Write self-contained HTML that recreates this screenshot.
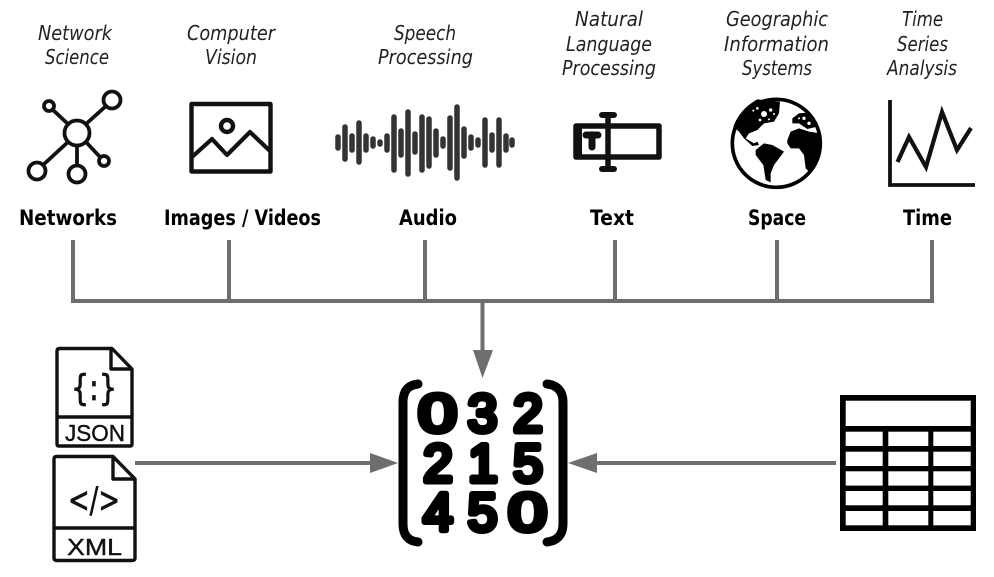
<!DOCTYPE html>
<html><head><meta charset="utf-8"><style>
html,body{margin:0;padding:0;background:#fff}
svg{display:block}
.i{font:italic 20px "DejaVu Sans",sans-serif;fill:#222}
.b{font:bold 21px "DejaVu Sans",sans-serif;fill:#000}
.f{font:23px "Liberation Sans",sans-serif;fill:#111;stroke:#111;stroke-width:.4}
.d{font:53px "Liberation Sans",sans-serif;fill:#000;stroke:#000;stroke-width:6;stroke-linejoin:round;stroke-linecap:round}
</style></head><body>
<svg width="994" height="577" viewBox="0 0 994 577" xmlns="http://www.w3.org/2000/svg">
<rect width="994" height="577" fill="#fff"/>
<text class="i" x="38" y="40" textLength="74" lengthAdjust="spacingAndGlyphs">Network</text>
<text class="i" x="45" y="64" textLength="64" lengthAdjust="spacingAndGlyphs">Science</text>
<text class="i" x="187" y="40" textLength="88" lengthAdjust="spacingAndGlyphs">Computer</text>
<text class="i" x="205" y="64" textLength="52" lengthAdjust="spacingAndGlyphs">Vision</text>
<text class="i" x="394" y="40" textLength="62" lengthAdjust="spacingAndGlyphs">Speech</text>
<text class="i" x="378" y="64" textLength="95" lengthAdjust="spacingAndGlyphs">Processing</text>
<text class="i" x="575" y="26" textLength="68" lengthAdjust="spacingAndGlyphs">Natural</text>
<text class="i" x="566" y="51" textLength="86" lengthAdjust="spacingAndGlyphs">Language</text>
<text class="i" x="562" y="75" textLength="94" lengthAdjust="spacingAndGlyphs">Processing</text>
<text class="i" x="726" y="26" textLength="102" lengthAdjust="spacingAndGlyphs">Geographic</text>
<text class="i" x="724" y="51" textLength="105" lengthAdjust="spacingAndGlyphs">Information</text>
<text class="i" x="742" y="75" textLength="70" lengthAdjust="spacingAndGlyphs">Systems</text>
<text class="i" x="902" y="26" textLength="41" lengthAdjust="spacingAndGlyphs">Time</text>
<text class="i" x="897" y="51" textLength="51" lengthAdjust="spacingAndGlyphs">Series</text>
<text class="i" x="887" y="75" textLength="70" lengthAdjust="spacingAndGlyphs">Analysis</text>
<text class="b" x="19" y="225" textLength="98" lengthAdjust="spacingAndGlyphs">Networks</text>
<text class="b" x="164" y="225" textLength="157" lengthAdjust="spacingAndGlyphs">Images / Videos</text>
<text class="b" x="399" y="225" textLength="58" lengthAdjust="spacingAndGlyphs">Audio</text>
<text class="b" x="590" y="225" textLength="44" lengthAdjust="spacingAndGlyphs">Text</text>
<text class="b" x="748" y="225" textLength="58" lengthAdjust="spacingAndGlyphs">Space</text>
<text class="b" x="903" y="225" textLength="49" lengthAdjust="spacingAndGlyphs">Time</text>

<!-- network -->
<g fill="none" stroke="#111" stroke-width="3.800">
<path d="M53 110 68 124M86 124 106 106M68 142 43 165M77 146V165M86 142 100 157"/>
<circle cx="77" cy="133" r="12.500"/><circle cx="49" cy="106" r="5"/><circle cx="112" cy="100" r="8.500"/><circle cx="37" cy="171" r="8.500"/><circle cx="77" cy="174" r="8.500"/><circle cx="104" cy="161" r="5"/>
</g>
<!-- image -->
<g fill="none" stroke="#111" stroke-width="4.400" stroke-linejoin="round">
<rect x="191.500" y="104" width="79" height="67.500"/>
<path d="M192 157 212 139 227 155 250 132 270 151" stroke-width="4.200"/>
<circle cx="227" cy="126" r="6"/>
</g>
<!-- audio -->
<g fill="none" stroke="#333" stroke-width="5.500" stroke-linecap="round">
<path d="M338 137V148M345 127V159M352 136V150M359 123V162M366 136V150M373 139V146M380 142V144M387 136V150M394 117V170M401 131V155M408 112V174M415 134V152M422 117V170M429 119V166M436 131V155M443 139V146M450 118V168M457 107V178M464 129V156M471 137V148M478 140V145M485 120V165M492 135V150M499 120V165M506 136V150M512 140V145"/>
</g>
<!-- text icon -->
<g fill="none" stroke="#111">
<rect x="576" y="126" width="83" height="31" stroke-width="5.500" stroke-linejoin="round"/>
<path d="M608 115V168M577 126V157" stroke-width="5.500"/>
<path d="M579 126V157" stroke-width="6"/>
<path d="M602 115H614M602 169H614" stroke-width="6" stroke-linecap="round"/>
<path d="M586 135H598M592 135V147" stroke-width="7" stroke-linecap="round"/>
</g>
<!-- globe -->
<g transform="translate(724 90) scale(.33333)">
<circle cx="157" cy="160" r="132" fill="#fff"/>
<path fill="#000" d="M28 110C45 65 75 42 100 28L168 35 165 70 150 95 120 100 100 120 75 130 65 145 90 160 100 155 105 165 85 168 60 145 45 125Z"/>
<path fill="#000" d="M95 180 120 160 145 165 180 185 165 205 150 225 140 250 140 277 125 270 118 225 95 195Z"/>
<path fill="#000" d="M190 150 200 125 225 115 255 125 288 130 291 170 275 215 255 245 245 235 240 195 225 175 200 175 190 160Z"/>
<path fill="#000" d="M205 85 225 70 250 68 280 110 250 117 225 100 205 100Z"/>
<g fill="#fff"><circle cx="120" cy="72" r="9"/><circle cx="100" cy="55" r="4"/><circle cx="140" cy="60" r="5"/><circle cx="108" cy="90" r="4"/><circle cx="88" cy="62" r="3"/><circle cx="135" cy="88" r="3"/><circle cx="150" cy="72" r="3"/><circle cx="240" cy="85" r="5"/><circle cx="255" cy="100" r="5"/><circle cx="225" cy="85" r="3"/></g>
<circle cx="157" cy="160" r="132" fill="none" stroke="#000" stroke-width="11"/>
</g>
<!-- time -->
<g fill="none" stroke="#111">
<path d="M890 100V185H975" stroke-width="3.800"/>
<path d="M897.500 162 909 137 926 167 942 112 957 150 971 128" stroke-width="4.200"/>
</g>

<!-- connectors -->
<g stroke="#6e6e6e" stroke-width="4" fill="none">
<path d="M73 240V301M229 240V301M425 240V301M615 240V301M777 240V301M932 240V301M71 301H934M482.500 301V352M135 463H372M597 463H836"/>
</g>
<g fill="#6e6e6e">
<path d="M473 350H493L482.500 378Z"/>
<path d="M370 453V473L398 463Z"/>
<path d="M597 453V473L568 463Z"/>
</g>

<!-- matrix -->
<g fill="none" stroke="#000" stroke-width="9" stroke-linecap="round">
<path d="M418 384C408 385 403 391 403 402V524C403 535 408 541 418 542"/>
<path d="M547 384C557 385 563 391 563 402V524C563 535 557 541 547 542"/>
</g>
<g>
<text class="d" text-anchor="middle" transform="translate(437.500 431.500) scale(1.300 1)">0</text>
<text class="d" text-anchor="middle" x="482.500" y="431.500">3</text>
<text class="d" text-anchor="middle" x="528" y="431.500">2</text>
<text class="d" text-anchor="middle" x="438" y="481.500">2</text>
<text class="d" text-anchor="middle" x="483" y="481.500">1</text>
<text class="d" text-anchor="middle" x="528" y="481.500">5</text>
<text class="d" text-anchor="middle" x="438" y="530.500">4</text>
<text class="d" text-anchor="middle" x="482.500" y="530.500">5</text>
<text class="d" text-anchor="middle" transform="translate(527.500 530.500) scale(1.300 1)">0</text>
</g>

<!-- JSON -->
<g fill="#fff" stroke="#111" stroke-width="3.400" stroke-linejoin="round">
<path d="M60 348.500H112L132 369V444Q132 446 130 446H59Q57 446 57 444V351Q57 348.500 60 348.500Z"/>
<path d="M111 349V369H132M57 417H132" fill="none"/>
</g>
<text class="f" x="65" y="441" textLength="60" lengthAdjust="spacingAndGlyphs">JSON</text>
<text x="71" y="400" font-family="DejaVu Sans" font-size="36" fill="#111" stroke="#111" stroke-width=".8" textLength="46" lengthAdjust="spacingAndGlyphs">{:}</text>
<!-- XML -->
<g fill="#fff" stroke="#111" stroke-width="3.400" stroke-linejoin="round">
<path d="M57 456.500H113L135 479V558Q135 560.500 132 560.500H57Q54 560.500 54 558V459Q54 456.500 57 456.500Z"/>
<path d="M113 457V479H135M54 528H135" fill="none"/>
</g>
<text class="f" x="67" y="555" textLength="55" lengthAdjust="spacingAndGlyphs">XML</text>
<text x="68" y="512" font-family="DejaVu Sans" font-size="36" fill="#111" stroke="#111" stroke-width=".6" textLength="52" lengthAdjust="spacingAndGlyphs">&lt;/&gt;</text>

<!-- table -->
<rect x="840" y="395" width="136" height="136" fill="#000"/>
<g fill="#fff">
<rect x="845.700" y="400.700" width="125" height="25.300"/>
<rect x="845.700" y="431.700" width="37" height="14.300"/><rect x="888.300" y="431.700" width="40" height="14.300"/><rect x="933.300" y="431.700" width="37.400" height="14.300"/>
<rect x="845.700" y="451.700" width="37" height="14.300"/><rect x="888.300" y="451.700" width="40" height="14.300"/><rect x="933.300" y="451.700" width="37.400" height="14.300"/>
<rect x="845.700" y="471.300" width="37" height="14.300"/><rect x="888.300" y="471.300" width="40" height="14.300"/><rect x="933.300" y="471.300" width="37.400" height="14.300"/>
<rect x="845.700" y="491" width="37" height="14.300"/><rect x="888.300" y="491" width="40" height="14.300"/><rect x="933.300" y="491" width="37.400" height="14.300"/>
<rect x="845.700" y="511" width="37" height="14.300"/><rect x="888.300" y="511" width="40" height="14.300"/><rect x="933.300" y="511" width="37.400" height="14.300"/>
</g>
</svg>
</body></html>
